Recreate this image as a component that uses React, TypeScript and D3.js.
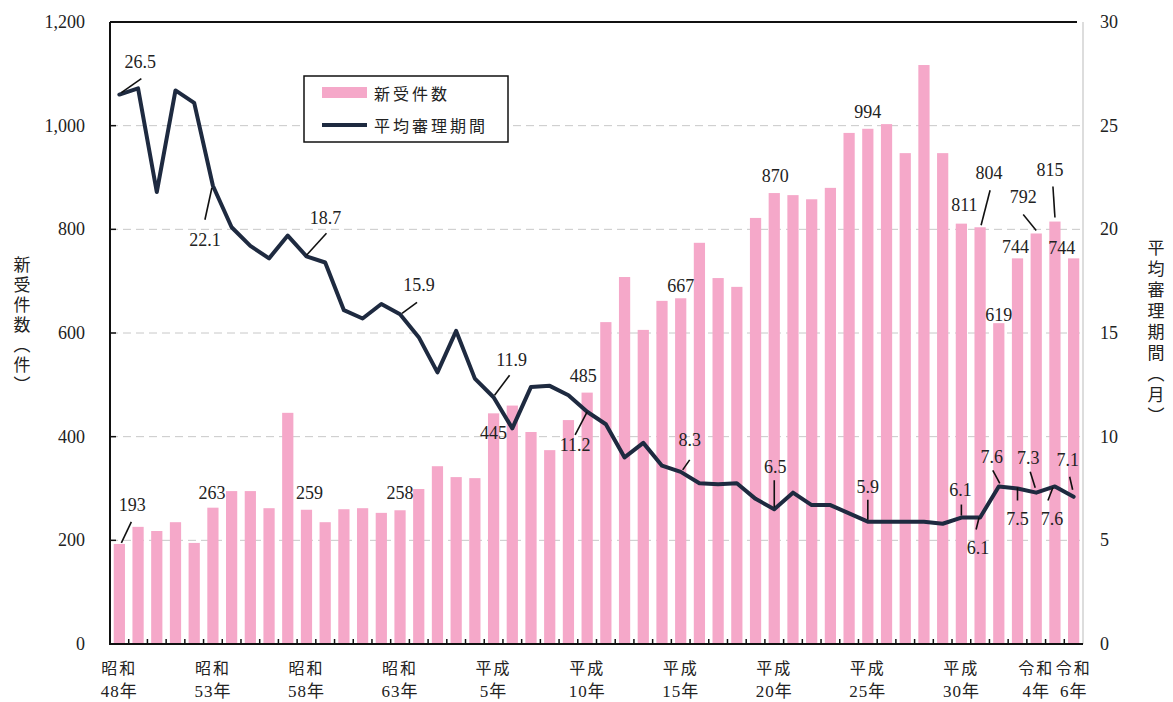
import React from 'react';
import * as d3 from 'd3';

const years = [
  1973, 1974, 1975, 1976, 1977, 1978, 1979, 1980, 1981, 1982,
  1983, 1984, 1985, 1986, 1987, 1988, 1989, 1990, 1991, 1992,
  1993, 1994, 1995, 1996, 1997, 1998, 1999, 2000, 2001, 2002,
  2003, 2004, 2005, 2006, 2007, 2008, 2009, 2010, 2011, 2012,
  2013, 2014, 2015, 2016, 2017, 2018, 2019, 2020, 2021, 2022,
  2023, 2024,
];

const newCases = [
  193, 226, 218, 235, 195, 263, 295, 295, 262, 446,
  259, 235, 260, 262, 253, 258, 299, 343, 322, 320,
  445, 460, 409, 374, 432, 485, 621, 708, 606, 662,
  667, 774, 706, 689, 822, 870, 866, 858, 880, 986,
  994, 1003, 947, 1117, 947, 811, 804, 619, 744, 792,
  815, 744,
];

const avgMonths = [
  26.5, 26.8, 21.8, 26.7, 26.1, 22.1, 20.1, 19.2, 18.6, 19.7,
  18.7, 18.4, 16.1, 15.7, 16.4, 15.9, 14.8, 13.1, 15.1, 12.8,
  11.9, 10.4, 12.4, 12.45, 12.0, 11.2, 10.6, 9.0, 9.7, 8.6,
  8.3, 7.75, 7.7, 7.75, 7.0, 6.5, 7.3, 6.7, 6.7, 6.3,
  5.9, 5.9, 5.9, 5.9, 5.8, 6.1, 6.1, 7.6, 7.5, 7.3,
  7.6, 7.1,
];

const xTickLabels = [
  { year: 1973, l1: '昭和', l2: '48年' },
  { year: 1978, l1: '昭和', l2: '53年' },
  { year: 1983, l1: '昭和', l2: '58年' },
  { year: 1988, l1: '昭和', l2: '63年' },
  { year: 1993, l1: '平成', l2: '5年' },
  { year: 1998, l1: '平成', l2: '10年' },
  { year: 2003, l1: '平成', l2: '15年' },
  { year: 2008, l1: '平成', l2: '20年' },
  { year: 2013, l1: '平成', l2: '25年' },
  { year: 2018, l1: '平成', l2: '30年' },
  { year: 2022, l1: '令和', l2: '4年' },
  { year: 2024, l1: '令和', l2: '6年' },
];

const leftTicks = [0, 200, 400, 600, 800, 1000, 1200];
const rightTicks = [0, 5, 10, 15, 20, 25, 30];

const legendLabels = ['新受件数', '平均審理期間'];
const leftTitle = '新受件数（件）';
const rightTitle = '平均審理期間（月）';

// label placement (styling): offsets from the bar top / line point
type Ann = { year: number; dx: number; dy: number; p?: [number, number, number, number] };
const barAnn: Ann[] = [
  { year: 1973, dx: 13, dy: -39, p: [2, -1, 12, -22] },
  { year: 1978, dx: -1, dy: -15 },
  { year: 1983, dx: 3, dy: -17 },
  { year: 1988, dx: 0, dy: -17 },
  { year: 1993, dx: 0, dy: 20 },
  { year: 1998, dx: -4, dy: -17 },
  { year: 2003, dx: 0, dy: -12 },
  { year: 2008, dx: 1, dy: -17 },
  { year: 2013, dx: 0, dy: -17 },
  { year: 2018, dx: 3, dy: -19 },
  { year: 2019, dx: 9, dy: -54, p: [10, -37, 1, -2] },
  { year: 2020, dx: 0, dy: -8 },
  { year: 2021, dx: -2, dy: -11 },
  { year: 2022, dx: -13, dy: -36, p: [-13, -19, 0, -3] },
  { year: 2023, dx: -5, dy: -52, p: [-2, -35, 0, -4] },
  { year: 2024, dx: -12, dy: -10 },
];
const lineAnn: Ann[] = [
  { year: 1973, dx: 21, dy: -33, p: [2, -2, 22, -16] },
  { year: 1978, dx: -8, dy: 54, p: [-1, 2, -8, 34] },
  { year: 1983, dx: 19, dy: -38, p: [20, -23, 0, -1] },
  { year: 1988, dx: 19, dy: -29, p: [17, -12, 2, -1] },
  { year: 1993, dx: 18, dy: -37, p: [16, -22, 1, -2] },
  { year: 1998, dx: -12, dy: 33, p: [-12, 23, 0, 0] },
  { year: 2003, dx: 9, dy: -32, p: [9, -12, 2, -2] },
  { year: 2008, dx: 1, dy: -42, p: [0, -29, 0, -2] },
  { year: 2013, dx: 0, dy: -35, p: [0, -22, 0, -2] },
  { year: 2018, dx: -1, dy: -28, p: [0, -13, 0, -2] },
  { year: 2019, dx: -2, dy: 30, p: [-1, 0, -4, 12] },
  { year: 2020, dx: -7, dy: -29, p: [-6, -16, 1, -3] },
  { year: 2021, dx: 0, dy: 30, p: [0, 12, 0, -1] },
  { year: 2022, dx: -8, dy: -35, p: [-6, -21, -1, -5] },
  { year: 2023, dx: -3, dy: 33, p: [-7, 14, -2, 1] },
  { year: 2024, dx: -6, dy: -37, p: [-4, -20, -1, -7] },
];

const W = 1173;
const H = 702;
const L = 110;
const R = 1083;
const T = 22;
const B = 644;

const BAR = '#f5a8c9';
const LINE = '#1e2a40';
const NUM_FONT = "'Liberation Serif', 'DejaVu Serif', serif";
const JP_FONT = "'Noto Sans CJK JP', sans-serif";
const MIX_FONT = "'Liberation Serif', 'Noto Sans CJK JP', serif";

export default function App() {
  const x = d3
    .scaleBand<number>()
    .domain(years)
    .range([L, R])
    .paddingInner(0.4)
    .paddingOuter(0.2);
  const step = x.step();
  const yL = d3.scaleLinear().domain([0, 1200]).range([B, T]);
  const yR = d3.scaleLinear().domain([0, 30]).range([B, T]);
  const cx = (yr: number) => (x(yr) as number) + x.bandwidth() / 2;
  const idx = (yr: number) => years.indexOf(yr);

  const line = d3
    .line<number>()
    .x((_, i) => cx(years[i]))
    .y((d) => yR(d));

  const fmt = d3.format(',');

  return (
    <svg
      width={W}
      height={H}
      style={{ position: 'absolute', left: 0, top: 0, background: '#fff', display: 'block' }}
    >
      <rect x={0} y={0} width={W} height={H} fill="#fff" />
      {/* grid */}
      {leftTicks.slice(1, -1).map((t) => (
        <line
          key={'g' + t}
          x1={L}
          x2={R}
          y1={yL(t)}
          y2={yL(t)}
          stroke="#c8c8c8"
          strokeWidth={1}
          strokeDasharray="8 5"
        />
      ))}
      {/* bars */}
      {years.map((yr, i) => (
        <rect
          key={'b' + yr}
          x={x(yr)}
          y={yL(newCases[i])}
          width={x.bandwidth()}
          height={B - yL(newCases[i])}
          fill={BAR}
        />
      ))}
      {/* frame */}
      <line x1={L} x2={R - 6} y1={T} y2={T} stroke="#111" strokeWidth={2} />
      <line x1={R} x2={R} y1={T} y2={B} stroke="#bbb" strokeWidth={1} />
      <line x1={L} x2={L} y1={T} y2={B + 1} stroke="#111" strokeWidth={2} />
      <line x1={L} x2={R} y1={B} y2={B} stroke="#111" strokeWidth={2} />
      {/* x ticks at band boundaries */}
      {years.slice(1).map((yr) => (
        <line
          key={'xt' + yr}
          x1={(x(yr) as number) - step * 0.2}
          x2={(x(yr) as number) - step * 0.2}
          y1={B}
          y2={B - 5}
          stroke="#111"
          strokeWidth={1.5}
        />
      ))}
      {/* left ticks */}
      {leftTicks.map((t) => (
        <g key={'lt' + t}>
          <line x1={L} x2={L + 6} y1={yL(t)} y2={yL(t)} stroke="#111" strokeWidth={1.5} />
          <text
            x={85}
            y={yL(t)}
            textAnchor="end"
            dominantBaseline="central"
            fontFamily={NUM_FONT}
            fontSize={18}
            fill="#222"
          >
            {fmt(t)}
          </text>
        </g>
      ))}
      {/* right ticks */}
      {rightTicks.map((t) => (
        <text
          key={'rt' + t}
          x={1100}
          y={yR(t)}
          textAnchor="start"
          dominantBaseline="central"
          fontFamily={NUM_FONT}
          fontSize={18}
          fill="#222"
        >
          {t}
        </text>
      ))}
      {/* x labels */}
      {xTickLabels.map((d) => (
        <g key={'xl' + d.year} fontFamily={MIX_FONT} fill="#222" textAnchor="middle">
          <text x={cx(d.year)} y={668} dominantBaseline="central" fontSize={16} letterSpacing={2}>
            {d.l1}
          </text>
          <text x={cx(d.year)} y={691} dominantBaseline="central" fontSize={17} letterSpacing={1}>
            {d.l2}
          </text>
        </g>
      ))}
      {/* axis titles (vertical writing) */}
      <text
        x={22}
        y={256}
        style={{ writingMode: 'vertical-rl' }}
        fontFamily={JP_FONT}
        fontSize={17}
        letterSpacing={3}
        fill="#222"
      >
        {leftTitle}
      </text>
      <text
        x={1156}
        y={239}
        style={{ writingMode: 'vertical-rl' }}
        fontFamily={JP_FONT}
        fontSize={17}
        letterSpacing={4}
        fill="#222"
      >
        {rightTitle}
      </text>
      {/* line */}
      <path
        d={line(avgMonths) || ''}
        fill="none"
        stroke={LINE}
        strokeWidth={4}
        strokeLinejoin="round"
        strokeLinecap="round"
      />
      {/* bar annotations */}
      {barAnn.map((a) => {
        const i = idx(a.year);
        const px = cx(a.year);
        const py = yL(newCases[i]);
        return (
          <g key={'ba' + a.year}>
            {a.p && (
              <line
                x1={px + a.p[0]}
                y1={py + a.p[1]}
                x2={px + a.p[2]}
                y2={py + a.p[3]}
                stroke="#111"
                strokeWidth={1.6}
              />
            )}
            <text
              x={px + a.dx}
              y={py + a.dy}
              textAnchor="middle"
              dominantBaseline="central"
              fontFamily={NUM_FONT}
              fontSize={18}
              fill="#222"
            >
              {newCases[i]}
            </text>
          </g>
        );
      })}
      {/* line annotations */}
      {lineAnn.map((a) => {
        const i = idx(a.year);
        const px = cx(a.year);
        const py = yR(avgMonths[i]);
        return (
          <g key={'la' + a.year}>
            {a.p && (
              <line
                x1={px + a.p[0]}
                y1={py + a.p[1]}
                x2={px + a.p[2]}
                y2={py + a.p[3]}
                stroke="#111"
                strokeWidth={1.6}
              />
            )}
            <text
              x={px + a.dx}
              y={py + a.dy}
              textAnchor="middle"
              dominantBaseline="central"
              fontFamily={NUM_FONT}
              fontSize={18}
              fill="#222"
            >
              {avgMonths[i].toFixed(1)}
            </text>
          </g>
        );
      })}
      {/* legend */}
      <g>
        <rect x={304} y={76} width={204} height={66} fill="#fff" stroke="#111" strokeWidth={1.5} />
        <rect x={322} y={87} width={45} height={11} fill={BAR} />
        <line x1={322} x2={367} y1={125} y2={125} stroke={LINE} strokeWidth={4} />
        {legendLabels.map((l, i) => (
          <text
            key={'lg' + i}
            x={374}
            y={i === 0 ? 93 : 125}
            dominantBaseline="central"
            fontFamily={JP_FONT}
            fontSize={16}
            letterSpacing={3}
            fill="#222"
          >
            {l}
          </text>
        ))}
      </g>
    </svg>
  );
}
